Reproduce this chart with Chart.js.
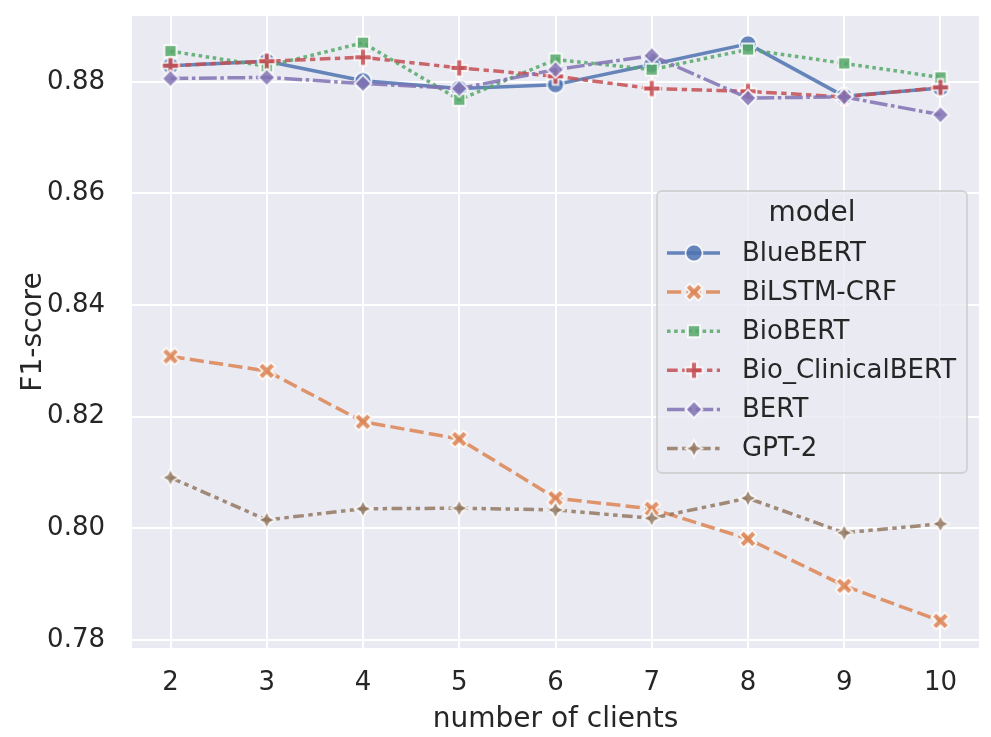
<!DOCTYPE html>
<html><head><meta charset="utf-8">
<script src="https://cdn.jsdelivr.net/npm/chart.js@4.4.1/dist/chart.umd.min.js"></script>
<style>html,body{margin:0;padding:0;background:#fff}#wrap{width:991px;height:737px}</style>
</head><body><div id="wrap"><canvas id="c" width="991" height="737"></canvas></div>
<script>
// ---------------- data ----------------
const clients = [2, 3, 4, 5, 6, 7, 8, 9, 10];
const modelNames = ['BlueBERT', 'BiLSTM-CRF', 'BioBERT', 'Bio_ClinicalBERT', 'BERT', 'GPT-2'];
const blueBERT        = [0.8829, 0.8837, 0.8802, 0.8788, 0.8795, 0.8831, 0.8868, 0.8774, 0.8789];
const bilstmCRF       = [0.8308, 0.8282, 0.8191, 0.8160, 0.8054, 0.8035, 0.7981, 0.7897, 0.7834];
const bioBERT         = [0.8855, 0.8828, 0.8870, 0.8768, 0.8840, 0.8822, 0.8858, 0.8833, 0.8808];
const bioClinicalBERT = [0.8829, 0.8837, 0.8844, 0.8825, 0.8810, 0.8788, 0.8783, 0.8773, 0.8790];
const bert            = [0.8806, 0.8808, 0.8797, 0.8788, 0.8822, 0.8847, 0.8771, 0.8773, 0.8741];
const gpt2            = [0.8091, 0.8015, 0.8035, 0.8036, 0.8033, 0.8018, 0.8054, 0.7992, 0.8008];
const xTickValues = [2, 3, 4, 5, 6, 7, 8, 9, 10];
const yTickValues = [0.78, 0.80, 0.82, 0.84, 0.86, 0.88];
const xTitle = 'number of clients';
const yTitle = 'F1-score';
const legendTitle = 'model';

// ---------------- styles ----------------
const series = [blueBERT, bilstmCRF, bioBERT, bioClinicalBERT, bert, gpt2];
const rgbs = ['76,114,176', '221,132,82', '85,168,104', '196,78,82', '129,114,179', '147,120,96'];
const ALPHA = 0.85;
const markerKinds = ['circle', 'X', 'square', 'plus', 'diamond', 'star4'];
const LW = 3.5;
const dashPatterns = [[], [14.2, 5.3], [3.56, 3.56], [10.7, 4.45, 5.3, 4.45], [17.8, 3.56, 3.56, 3.56], [10.7, 4.45, 4.45, 4.45, 4.45, 4.45]];
const FONT = '"DejaVu Sans", "Liberation Sans", sans-serif';
const TXT = '#262626';

function markerCanvas(kind, rgb) {
  const S = 17, ew = 1.8, size = 24, c = size / 2;
  const cv = document.createElement('canvas');
  cv.width = size; cv.height = size;
  const g = cv.getContext('2d');
  const poly = (pts, k) => {
    pts.forEach((p, i) => { const px = c + p[0] * k, py = c + p[1] * k; i ? g.lineTo(px, py) : g.moveTo(px, py); });
    g.closePath();
  };
  g.beginPath();
  if (kind === 'circle') g.arc(c, c, S / 2, 0, Math.PI * 2);
  else if (kind === 'X') poly([[-1,-2],[0,-1],[1,-2],[2,-1],[1,0],[2,1],[1,2],[0,1],[-1,2],[-2,1],[-1,0],[-2,-1]], S / 4);
  else if (kind === 'square') { const h = S / (2 * Math.SQRT2); poly([[-h,-h],[h,-h],[h,h],[-h,h]], 1); }
  else if (kind === 'plus') poly([[-1,-3],[1,-3],[1,-1],[3,-1],[3,1],[1,1],[1,3],[-1,3],[-1,1],[-3,1],[-3,-1],[-1,-1]], S / 6);
  else if (kind === 'diamond') poly([[0,-1],[1,0],[0,1],[-1,0]], S / 2);
  else if (kind === 'star4') {
    const pts = [];
    for (let i = 0; i < 8; i++) {
      const a = -Math.PI / 2 + i * Math.PI / 4, r = (i % 2 === 0) ? S / 2 : S / 4;
      pts.push([Math.cos(a) * r, Math.sin(a) * r]);
    }
    poly(pts, 1);
  }
  g.fillStyle = `rgba(${rgb},${ALPHA})`;
  g.fill();
  g.lineWidth = ew;
  g.lineJoin = 'miter';
  g.strokeStyle = `rgba(255,255,255,${ALPHA})`;
  g.stroke();
  return cv;
}
const markerImgs = markerKinds.map((k, i) => markerCanvas(k, rgbs[i]));

const datasets = modelNames.map((name, i) => ({
  label: name,
  data: clients.map((x, j) => ({ x: x, y: series[i][j] })),
  borderColor: `rgba(${rgbs[i]},${ALPHA})`,
  backgroundColor: `rgba(${rgbs[i]},${ALPHA})`,
  borderWidth: LW,
  borderDash: dashPatterns[i],
  borderCapStyle: 'butt',
  borderJoinStyle: 'round',
  pointStyle: markerImgs[i],
  pointRadius: 7,
  tension: 0,
  fill: false,
  order: modelNames.length - i
}));

const bgPlugin = {
  id: 'bg',
  beforeDraw(chart) {
    const { ctx, chartArea: a } = chart;
    ctx.save();
    ctx.fillStyle = '#EAEAF2';
    ctx.fillRect(a.left, a.top, a.right - a.left, a.bottom - a.top);
    ctx.restore();
  }
};

const legendPlugin = {
  id: 'seabornLegend',
  afterDraw(chart) {
    const { ctx, chartArea: a } = chart;
    const bx = a.right - 322, by = a.top + 175, bw = 310, bh = 282;
    ctx.save();
    ctx.beginPath();
    if (ctx.roundRect) ctx.roundRect(bx, by, bw, bh, 5); else ctx.rect(bx, by, bw, bh);
    ctx.fillStyle = 'rgba(234,234,242,0.8)';
    ctx.fill();
    ctx.lineWidth = 1.8;
    ctx.strokeStyle = 'rgba(204,204,204,0.8)';
    ctx.stroke();
    ctx.fillStyle = TXT;
    ctx.textBaseline = 'middle';
    ctx.textAlign = 'center';
    ctx.font = `28px ${FONT}`;
    ctx.fillText(legendTitle, bx + bw / 2, by + 23);
    ctx.textAlign = 'left';
    ctx.font = `26px ${FONT}`;
    modelNames.forEach((name, i) => {
      const y = by + 62 + i * 39.1;
      ctx.beginPath();
      ctx.setLineDash(dashPatterns[i]);
      ctx.lineDashOffset = 0;
      ctx.lineCap = 'butt';
      ctx.lineWidth = LW;
      ctx.strokeStyle = `rgba(${rgbs[i]},${ALPHA})`;
      ctx.moveTo(bx + 10, y);
      ctx.lineTo(bx + 63, y);
      ctx.stroke();
      ctx.setLineDash([]);
      const img = markerImgs[i];
      ctx.drawImage(img, bx + 37 - img.width / 2, y - img.height / 2);
      ctx.fillStyle = TXT;
      ctx.fillText(name, bx + 85, y + 1);
    });
    ctx.restore();
  }
};

new Chart(document.getElementById('c'), {
  type: 'line',
  data: { datasets },
  options: {
    responsive: false,
    animation: false,
    events: [],
    layout: { padding: { top: 16, right: 12, left: 0, bottom: 0 } },
    plugins: { legend: { display: false }, tooltip: { enabled: false } },
    scales: {
      x: {
        type: 'linear',
        min: 1.6, max: 10.4,
        afterBuildTicks: (axis) => { axis.ticks = xTickValues.map(v => ({ value: v })); },
        afterFit: (axis) => { axis.height = 89; axis.paddingLeft = 0; axis.paddingRight = 0; axis.paddingTop = 0; axis.paddingBottom = 0; },
        grid: { color: '#ffffff', lineWidth: 2, drawTicks: false },
        border: { display: false },
        ticks: { color: TXT, font: { family: FONT, size: 26 }, padding: 20, maxRotation: 0, callback: v => String(v) },
        title: { display: true, text: xTitle, color: TXT, font: { family: FONT, size: 28 }, padding: { top: 0, bottom: 0 } }
      },
      y: {
        type: 'linear',
        min: 0.77855, max: 0.8918,
        afterBuildTicks: (axis) => { axis.ticks = yTickValues.map(v => ({ value: v })); },
        afterFit: (axis) => { axis.width = 132; axis.paddingLeft = 0; axis.paddingRight = 0; axis.paddingTop = 0; axis.paddingBottom = 0; },
        grid: { color: '#ffffff', lineWidth: 2, drawTicks: false },
        border: { display: false },
        ticks: { color: TXT, font: { family: FONT, size: 26 }, padding: 27, callback: v => v.toFixed(2) },
        title: { display: true, text: yTitle, color: TXT, font: { family: FONT, size: 28 }, padding: { top: 17, bottom: 0 } }
      }
    }
  },
  plugins: [bgPlugin, legendPlugin]
});
</script>
</body></html>
